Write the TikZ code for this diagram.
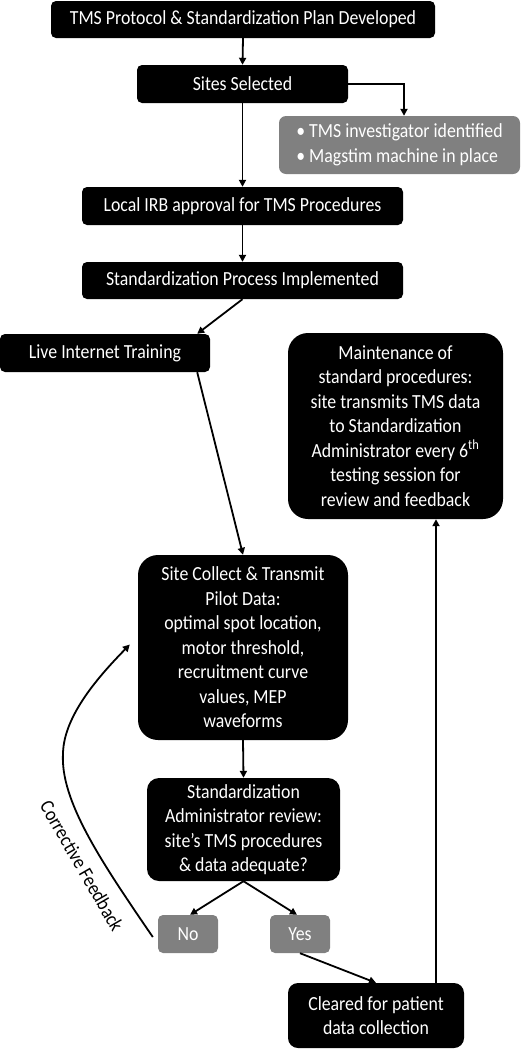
\documentclass[tikz,border=0pt]{standalone}
\usepackage{fontspec}
\setmainfont{Carlito}[FakeStretch=0.89]
\usetikzlibrary{arrows.meta,calc}
\definecolor{boxgray}{RGB}{128,128,128}
\begin{document}
\begin{tikzpicture}[x=1pt,y=-1pt,
  blk/.style={fill=black, text=white, rounded corners=5pt, align=center, inner sep=0pt,
    font=\fontsize{20}{24.5}\selectfont},
  gbox/.style={fill=boxgray, text=white, rounded corners=5pt, inner sep=0pt,
    font=\fontsize{20}{24.5}\selectfont},
  arr/.style={line width=1.8pt, -{Triangle[length=7pt,width=7pt]}},
  lbl/.style={font=\fontsize{20}{24.5}\selectfont}]
\useasboundingbox (0,0) rectangle (528,1050);
\node[blk, minimum width=384pt, minimum height=37pt] (top) at (243,19.5) {TMS Protocol \& Standardization Plan Developed};
\node[blk, minimum width=211pt, minimum height=38pt] (sites) at (242.5,84) {Sites Selected};
\node[gbox, minimum width=241pt, minimum height=58pt, rounded corners=7pt, align=left] (req) at (399.5,145) {• TMS investigator identified\\• Magstim machine in place};
\node[blk, minimum width=321pt, minimum height=38pt] (irb) at (242.5,206) {Local IRB approval for TMS Procedures};
\node[blk, minimum width=321pt, minimum height=37pt] (std) at (242.5,280.5) {Standardization Process Implemented};
\node[blk, minimum width=210pt, minimum height=38pt] (live) at (105,353) {Live Internet Training};
\node[blk, minimum width=215pt, minimum height=186pt, rounded corners=20pt] (maint) at (395.5,426) {Maintenance of\\standard procedures:\\site transmits TMS data\\to Standardization\\Administrator every 6\textsuperscript{th}\\testing session for\\review and feedback};
\node[blk, minimum width=210pt, minimum height=185pt, rounded corners=20pt] (site) at (243,647.5) {Site Collect \& Transmit\\Pilot Data:\\optimal spot location,\\motor threshold,\\recruitment curve\\values, MEP\\waveforms};
\node[blk, minimum width=193pt, minimum height=103pt, rounded corners=12pt] (rev) at (243.5,829.5) {Standardization\\Administrator review:\\site’s TMS procedures\\\& data adequate?};
\node[gbox, minimum width=60pt, minimum height=38pt] (no) at (188,934) {No};
\node[gbox, minimum width=60pt, minimum height=38pt] (yes) at (300,934) {Yes};
\node[blk, minimum width=176pt, minimum height=65pt, rounded corners=10pt] (clr) at (376,1015.5) {Cleared for patient\\data collection};
% connectors
\draw[arr] (top.south) -- (sites.north);
\draw[arr] (sites.east) -| ([xshift=4.5pt]req.north);
\draw[arr] (sites.south) -- (irb.north);
\draw[arr] (irb.south) -- (std.north);
\draw[arr] (std.south) -- ([xshift=-13pt]live.north east);
\draw[arr] ([xshift=-13pt]live.south east) -- (site.north);
\draw[arr] (site.south) -- (rev.north);
\draw[arr] (rev.south) -- ([xshift=2pt]no.north);
\draw[arr] (rev.south) -- ([xshift=-3pt]yes.north);
\draw[arr] (yes.south) -- (clr.north);
\draw[arr] ([xshift=60pt]clr.north) -- ([xshift=60pt]clr.north |- maint.south);
\draw[arr] ($(no.west)+(-5,3)$) .. controls (100,860) and (60,800) .. (63,753)
   .. controls (64,715) and (100,675) .. ($(site.west)+(-8,-3)$);
\node[lbl, rotate=-60] (cf) at (82,866) {Corrective Feedback};
\end{tikzpicture}
\end{document}
